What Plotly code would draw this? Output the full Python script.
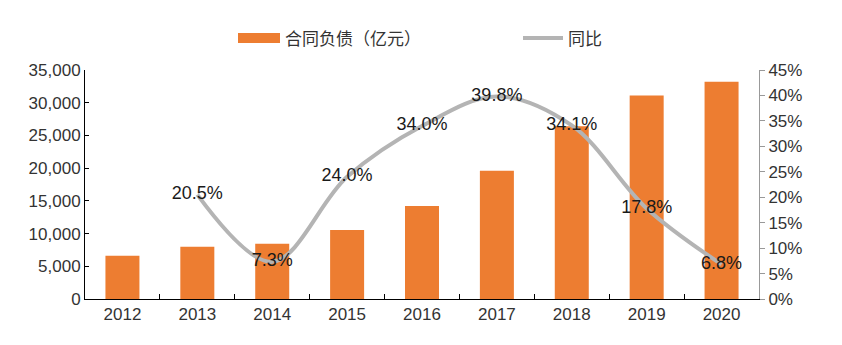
import plotly.graph_objects as go

years = ["2012", "2013", "2014", "2015", "2016", "2017", "2018", "2019", "2020"]
liabilities = [6600, 8000, 8450, 10550, 14200, 19600, 26400, 31100, 33200]
yoy_years = ["2013", "2014", "2015", "2016", "2017", "2018", "2019", "2020"]
yoy = [20.5, 7.3, 24.0, 34.0, 39.8, 34.1, 17.8, 6.8]
yoy_labels = [f"{v:.1f}%" for v in yoy]

left_ticks = [0, 5000, 10000, 15000, 20000, 25000, 30000, 35000]
right_ticks = [0, 5, 10, 15, 20, 25, 30, 35, 40, 45]
right_ticktext = [f"{v}%" for v in right_ticks]

BAR = "#ED7D31"
LINE = "#B4B4B4"
NUM_FONT = "Liberation Sans, Arial, sans-serif"
CJK_FONT = "Noto Sans CJK SC, sans-serif"

fig = go.Figure()
fig.add_trace(go.Bar(
    x=years, y=liabilities, name="合同负债（亿元）",
    marker=dict(color=BAR, line=dict(width=0)), yaxis="y",
))
fig.add_trace(go.Scatter(
    x=yoy_years, y=yoy, name="同比", yaxis="y2",
    mode="lines+text", line=dict(color=LINE, width=4, shape="spline", smoothing=1),
    text=yoy_labels, textposition="middle center",
    textfont=dict(family=NUM_FONT, size=18, color="#1a1a1a"),
))

fig.update_layout(
    width=842, height=345,
    margin=dict(l=85, r=83, t=70, b=46),
    paper_bgcolor="white", plot_bgcolor="white",
    showlegend=False,
    bargap=0.546,
    font=dict(family=NUM_FONT, size=17, color="#333333"),
    xaxis=dict(
        type="category", showline=True, linecolor="#000000", linewidth=1,
        ticks="inside", tickson="boundaries", ticklen=5, tickcolor="#000000",
        showgrid=False, tickfont=dict(size=17, color="#333333"),
        range=[-0.5, 8.5],
    ),
    yaxis=dict(
        range=[0, 35000], tickvals=left_ticks,
        tickformat=",d", showline=True, linecolor="#000000", linewidth=1,
        ticks="inside", ticklen=4, tickcolor="#000000",
        showgrid=False, zeroline=False, tickfont=dict(size=17, color="#333333"),
    ),
    yaxis2=dict(
        range=[0, 45], tickvals=right_ticks, ticktext=right_ticktext,
        overlaying="y", side="right", showline=True, linecolor="#999999",
        linewidth=1, ticks="outside", ticklen=5, tickcolor="#999999",
        showgrid=False, zeroline=False, tickfont=dict(size=17, color="#333333"),
    ),
)

# manual legend
fig.add_shape(type="rect", xref="paper", yref="paper",
              x0=(238 - 85) / 674, x1=(280 - 85) / 674,
              y0=(299 - 43) / 229, y1=(299 - 33) / 229,
              fillcolor=BAR, line=dict(width=0))
fig.add_annotation(xref="paper", yref="paper", x=(283 - 85) / 674, y=(299 - 38) / 229,
                   text="合同负债（亿元）", showarrow=False, xanchor="left", yanchor="middle",
                   font=dict(family=CJK_FONT, size=17, color="#333333"))
fig.add_shape(type="line", xref="paper", yref="paper",
              x0=(523 - 85) / 674, x1=(563 - 85) / 674,
              y0=(299 - 38) / 229, y1=(299 - 38) / 229,
              line=dict(color=LINE, width=4))
fig.add_annotation(xref="paper", yref="paper", x=(566 - 85) / 674, y=(299 - 38) / 229,
                   text="同比", showarrow=False, xanchor="left", yanchor="middle",
                   font=dict(family=CJK_FONT, size=17, color="#333333"))

fig.write_html("out.html")
